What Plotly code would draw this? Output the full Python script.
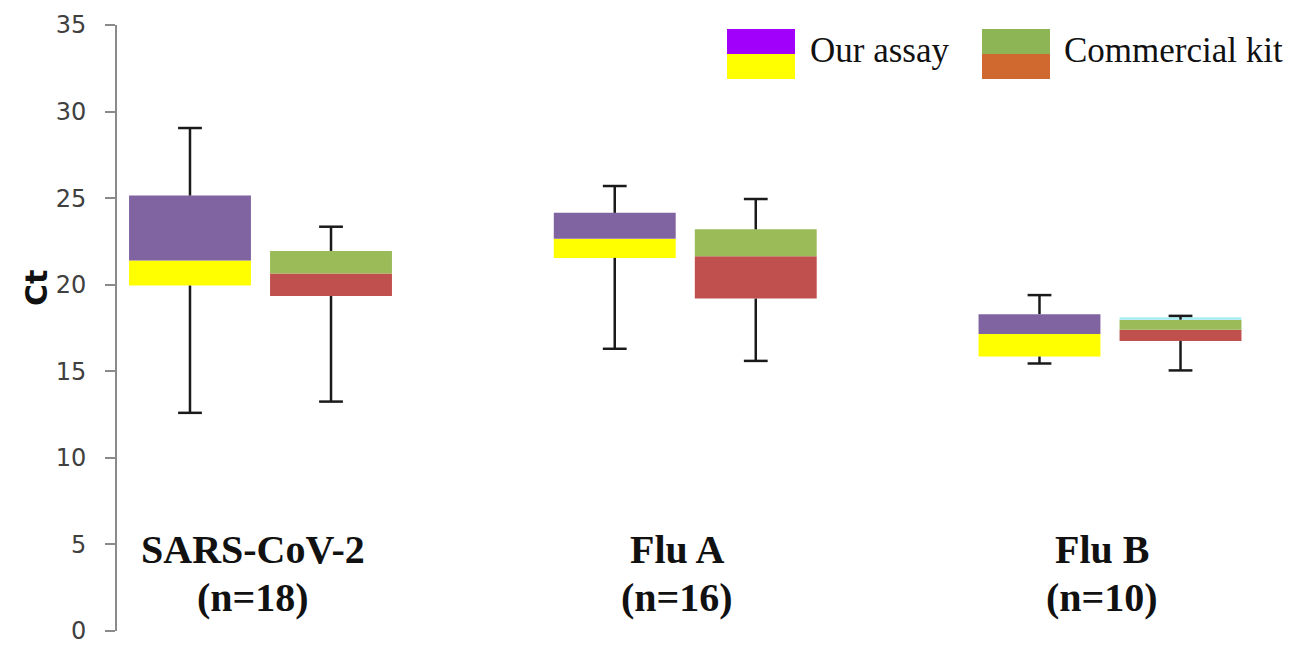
import plotly.graph_objects as go

# ---- data ----
categories = ["SARS-CoV-2", "Flu A", "Flu B"]
sample_n = [18, 16, 10]

ours_min = [12.6, 16.3, 15.45]
ours_q1 = [19.95, 21.55, 15.85]
ours_med = [21.4, 22.65, 17.15]
ours_q3 = [25.15, 24.15, 18.3]
ours_max = [29.05, 25.7, 19.4]

kit_min = [13.25, 15.6, 15.05]
kit_q1 = [19.35, 19.2, 16.75]
kit_med = [20.65, 21.65, 17.4]
kit_q3 = [21.95, 23.2, 17.98]
kit_max = [23.35, 24.95, 18.2]
kit_top_strip = [0, 0, 0.14]

y_ticks = [0, 5, 10, 15, 20, 25, 30, 35]

# ---- styling ----
BOX_W = 0.287
HALF = 0.166
C_OUR_UP = "#8064A2"
C_OUR_LO = "#FFFF00"
C_KIT_UP = "#9BBB59"
C_KIT_LO = "#C0504D"
C_STRIP = "#A8EEF4"
WHISK = "#1a1a1a"

idx = list(range(len(categories)))
x_our = [i - HALF for i in idx]
x_kit = [i + HALF for i in idx]

fig = go.Figure()


def add_box(xs, lo, med, hi, c_lo, c_up):
    fig.add_trace(go.Bar(x=xs, y=[m - q for m, q in zip(med, lo)], base=lo,
                         width=BOX_W, marker=dict(color=c_lo, line=dict(width=0)),
                         showlegend=False, hoverinfo="skip"))
    fig.add_trace(go.Bar(x=xs, y=[h - m for h, m in zip(hi, med)], base=med,
                         width=BOX_W, marker=dict(color=c_up, line=dict(width=0)),
                         showlegend=False, hoverinfo="skip"))


add_box(x_our, ours_q1, ours_med, ours_q3, C_OUR_LO, C_OUR_UP)
add_box(x_kit, kit_q1, kit_med, kit_q3, C_KIT_LO, C_KIT_UP)
fig.add_trace(go.Bar(x=x_kit, y=kit_top_strip, base=kit_q3, width=BOX_W,
                     marker=dict(color=C_STRIP, line=dict(width=0)),
                     showlegend=False, hoverinfo="skip"))


def add_whiskers(xs, mn, q1, q3, mx):
    lx, ly = [], []
    for x, a, b, c, d in zip(xs, mn, q1, q3, mx):
        lx += [x, x, None, x, x, None]
        ly += [a, b, None, c, d, None]
    fig.add_trace(go.Scatter(x=lx, y=ly, mode="lines",
                             line=dict(color=WHISK, width=2.5),
                             showlegend=False, hoverinfo="skip"))
    fig.add_trace(go.Scatter(x=xs + xs, y=mn + mx, mode="markers",
                             marker=dict(symbol="line-ew", size=17,
                                         line=dict(color=WHISK, width=2.5)),
                             showlegend=False, hoverinfo="skip"))


add_whiskers(x_our, ours_min, ours_q1, ours_q3, ours_max)
add_whiskers(x_kit, kit_min, kit_q1, kit_q3, kit_max)

# ---- layout (page has an 8px body margin) ----
OFF = 8
PL, PT, PB, PR = 117, 25, 631, 1295      # plot area edges in page pixels
FW, FH = 1295 - OFF, 646 - OFF           # figure size
L = PL - OFF
T = PT - OFF
B = FH - (PB - OFF)
R = FW - (PR - OFF)


def px_x(p):
    return (p - PL) / (PR - PL)


def px_y(p):
    return (PB - p) / (PB - PT)


annotations = []
for i, (cat, n) in enumerate(zip(categories, sample_n)):
    annotations.append(dict(x=i, xref="x", y=px_y(549), yref="paper", text=f"<b>{cat}</b>",
                            showarrow=False, xanchor="center", yanchor="middle", xshift=-8,
                            font=dict(family="Liberation Serif", size=40, color="#111")))
    annotations.append(dict(x=i, xref="x", y=px_y(597), yref="paper", text=f"<b>(n={n})</b>",
                            showarrow=False, xanchor="center", yanchor="middle", xshift=-8,
                            font=dict(family="Liberation Serif", size=40, color="#111")))

annotations.append(dict(x=px_x(36), xref="paper", y=px_y(288), yref="paper", text="<b>Ct</b>",
                        textangle=-90, showarrow=False, xanchor="center", yanchor="middle",
                        font=dict(family="DejaVu Sans", size=30, color="#111")))

# legend (manual, two-tone swatches)
shapes = []
legend_items = [
    ("Our assay", "#A100FA", "#FFFF00", 727, 795, 808),
    ("Commercial kit", "#8DB555", "#D0692F", 982, 1050, 1062),
]
for label, c_top, c_bot, x0, x1, tx in legend_items:
    shapes.append(dict(type="rect", xref="paper", yref="paper", x0=px_x(x0), x1=px_x(x1),
                       y0=px_y(54), y1=px_y(29), fillcolor=c_top, line=dict(width=0)))
    shapes.append(dict(type="rect", xref="paper", yref="paper", x0=px_x(x0), x1=px_x(x1),
                       y0=px_y(79), y1=px_y(54), fillcolor=c_bot, line=dict(width=0)))
    annotations.append(dict(x=px_x(tx), xref="paper", y=px_y(50), yref="paper", text=label,
                            showarrow=False, xanchor="left", yanchor="middle",
                            font=dict(family="Liberation Serif", size=35, color="#111")))

fig.update_layout(
    width=FW, height=FH,
    margin=dict(l=L, r=R, t=T, b=B, pad=0, autoexpand=False),
    paper_bgcolor="white", plot_bgcolor="white",
    barmode="overlay",
    showlegend=False,
    xaxis=dict(range=[(PL - 260.5) / 424.75, (PR - 260.5) / 424.75], showgrid=False,
               zeroline=False, showline=False, showticklabels=False, ticks="",
               automargin=False),
    yaxis=dict(range=[0, 35], tickvals=y_ticks, showgrid=False, zeroline=False,
               showline=True, linecolor="#8a8a8a", linewidth=2,
               ticks="outside", ticklen=10, tickwidth=2, tickcolor="#8a8a8a",
               ticklabelstandoff=14, ticklabeloverflow="allow", automargin=False,
               tickfont=dict(family="DejaVu Sans", size=24, color="#404040")),
    annotations=annotations,
    shapes=shapes,
)

fig.write_html("out.html")
